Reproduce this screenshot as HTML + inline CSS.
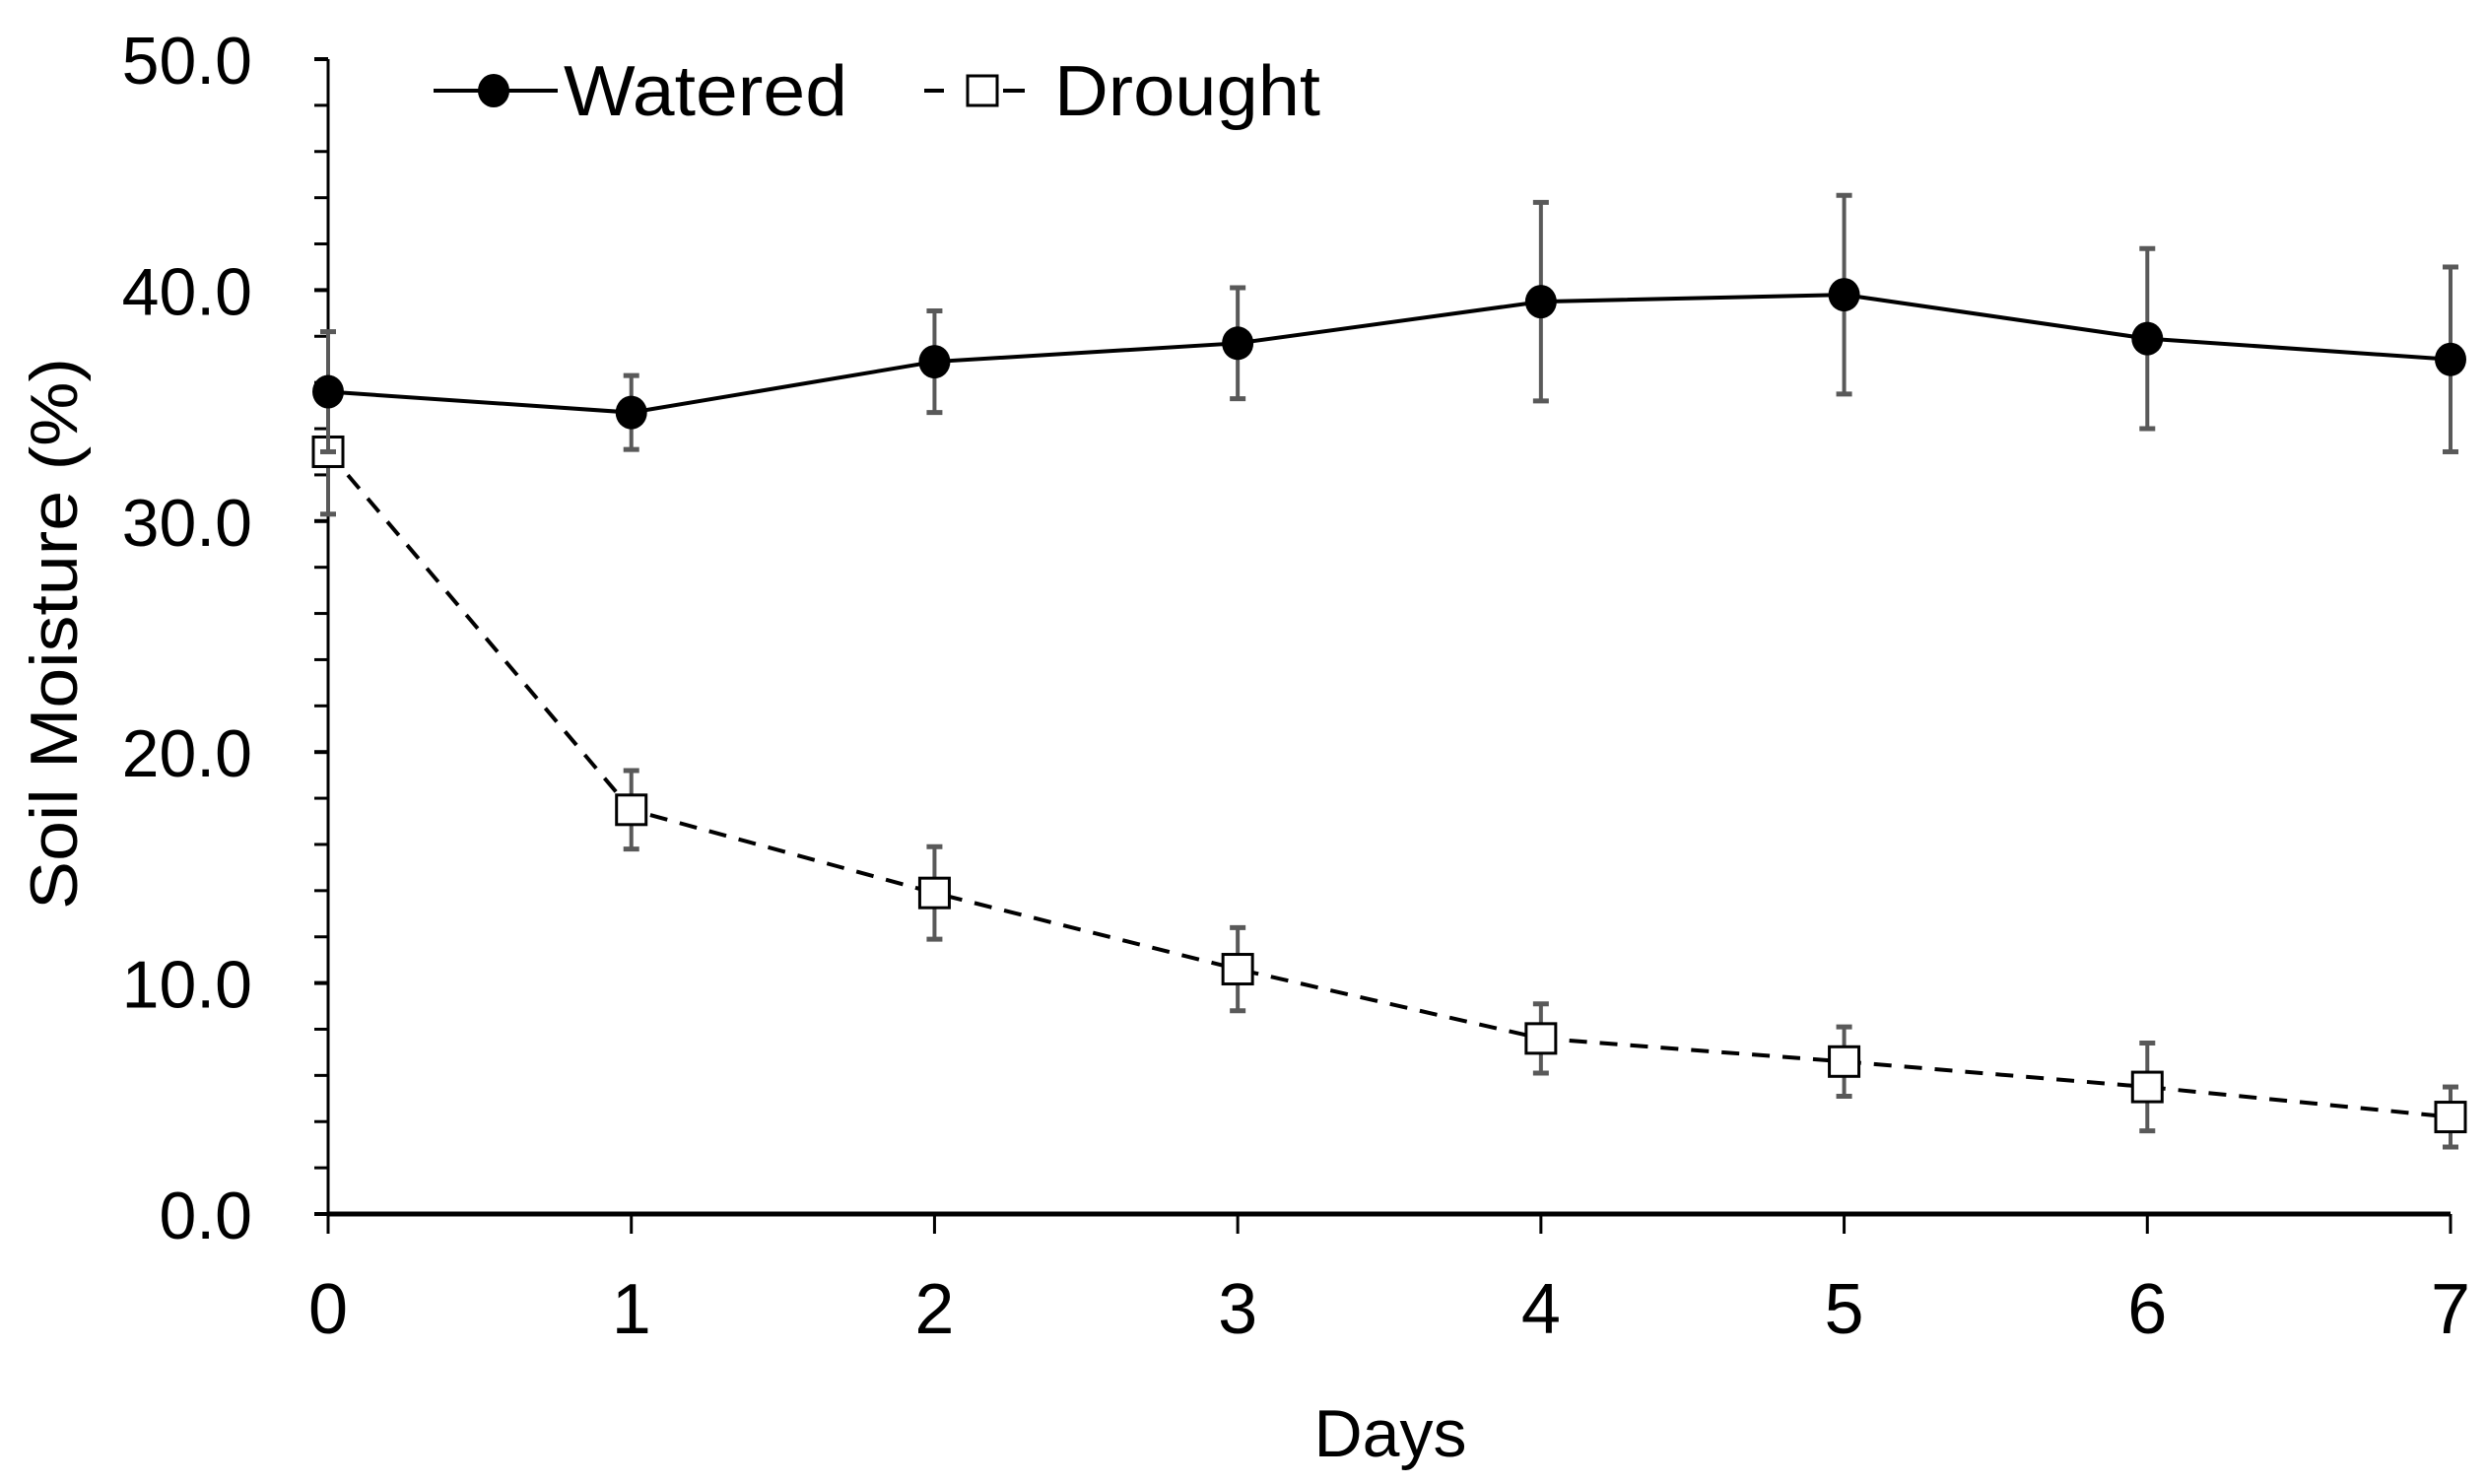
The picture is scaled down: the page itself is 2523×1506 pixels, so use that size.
<!DOCTYPE html>
<html><head><meta charset="utf-8"><style>
html,body{margin:0;padding:0;background:#fff;}
svg{display:block;font-family:"Liberation Sans",sans-serif;}
</style></head><body>
<svg id="chart" width="2523" height="1506" viewBox="0 0 2523 1506" xmlns="http://www.w3.org/2000/svg">
<rect width="2523" height="1506" fill="#fff"/>
<g id="axes"></g>
<g id="series"></g>
<text transform="translate(78,643) rotate(-90)" text-anchor="middle" font-size="68" textLength="560" lengthAdjust="spacingAndGlyphs" fill="#000">Soil Moisture (%)</text>
<text x="1411" y="1478" text-anchor="middle" font-size="68" fill="#000">Days</text>
<g>
  <line x1="440" y1="92" x2="566" y2="92" stroke="#000" stroke-width="4"/>
  <ellipse cx="501" cy="92" rx="16" ry="17" fill="#000"/>
  <text x="572" y="117" font-size="72" textLength="288" lengthAdjust="spacingAndGlyphs" fill="#000">Watered</text>
  <line x1="938" y1="92" x2="958" y2="92" stroke="#000" stroke-width="4"/>
  <rect x="982" y="77" width="30" height="30" fill="#fff" stroke="#000" stroke-width="3"/>
  <line x1="1018" y1="92" x2="1040" y2="92" stroke="#000" stroke-width="4"/>
  <text x="1070" y="117" font-size="72" textLength="270" lengthAdjust="spacingAndGlyphs" fill="#000">Drought</text>
</g>
</svg>
<script>
const days = [0,1,2,3,4,5,6,7];
const wateredValues = [35.6,34.7,36.9,37.7,39.5,39.8,37.9,37.0];
const wateredErrors = [2.6,1.6,2.2,2.4,4.3,4.3,3.9,4.0];
const droughtValues = [33.0,17.5,13.9,10.6,7.6,6.6,5.5,4.2];
const droughtErrors = [2.7,1.7,2.0,1.8,1.5,1.5,1.9,1.3];
const yTickLabels = ["0.0","10.0","20.0","30.0","40.0","50.0"];
const xTickLabels = ["0","1","2","3","4","5","6","7"];

const NS="http://www.w3.org/2000/svg";
const X0=333,X1=2487,Y0=1232,Y1=60;
function xs(d){return X0+(d-0)/(7-0)*(X1-X0);}
function ys(v){return Y0-(v-0)/(50-0)*(Y0-Y1);}
function mk(tag,attrs,parent){const e=document.createElementNS(NS,tag);for(const k in attrs)e.setAttribute(k,attrs[k]);parent.appendChild(e);return e;}
const axes=document.getElementById('axes'), series=document.getElementById('series');

let el;
el=mk('line',{x1:X0,y1:Y1,x2:X0,y2:Y0,stroke:'#000','stroke-width':3},axes);


el=mk('line',{x1:X0,y1:Y0,x2:X1,y2:Y0,stroke:'#000','stroke-width':5},axes);


for(let v=0;v<=50;v+=2){
  el=mk('line',{x1:X0-14,y1:ys(v),x2:X0,y2:ys(v),stroke:'#000','stroke-width':v%10===0?4:3},axes);
  
  
}
yTickLabels.forEach((t,i)=>{
  el=mk('text',{x:256,y:ys(parseFloat(t))+25,'text-anchor':'end','font-size':68,fill:'#000'},axes);
  el.textContent=t;
  
  
});
xTickLabels.forEach((t,i)=>{
  const x=xs(days[i]);
  el=mk('line',{x1:x,y1:Y0,x2:x,y2:Y0+20,stroke:'#000','stroke-width':3},axes);
  
  
  el=mk('text',{x:x,y:1353,'text-anchor':'middle','font-size':72,fill:'#000'},axes);
  el.textContent=t;
  
  
});

function drawSeries(vals,errs,name,dashed,filled){
  const pts=days.map((d,i)=>xs(d)+','+ys(vals[i])).join(' ');
  el=mk('polyline',{points:pts,fill:'none',stroke:'#000','stroke-width':4,'stroke-dasharray':dashed?'18,13':'none'},series);
  
  
  days.forEach((d,i)=>{
    const x=xs(d),top=ys(vals[i]+errs[i]),bot=ys(vals[i]-errs[i]);
    const g=mk('g',{},series);
    
    
    mk('line',{x1:x,y1:top,x2:x,y2:bot,stroke:'#595959','stroke-width':4},g);
    mk('line',{x1:x-8,y1:top,x2:x+8,y2:top,stroke:'#595959','stroke-width':5},g);
    mk('line',{x1:x-8,y1:bot,x2:x+8,y2:bot,stroke:'#595959','stroke-width':5},g);
  });
  days.forEach((d,i)=>{
    const x=xs(d),y=ys(vals[i]);
    if(filled){
      el=mk('ellipse',{cx:x,cy:y,rx:16,ry:17,fill:'#000'},series);
    }else{
      el=mk('rect',{x:x-15,y:y-15,width:30,height:30,fill:'#fff',stroke:'#000','stroke-width':3},series);
    }
    
    
  });
}
drawSeries(droughtValues,droughtErrors,'drought',true,false);
drawSeries(wateredValues,wateredErrors,'watered',false,true);
</script>
</body></html>
